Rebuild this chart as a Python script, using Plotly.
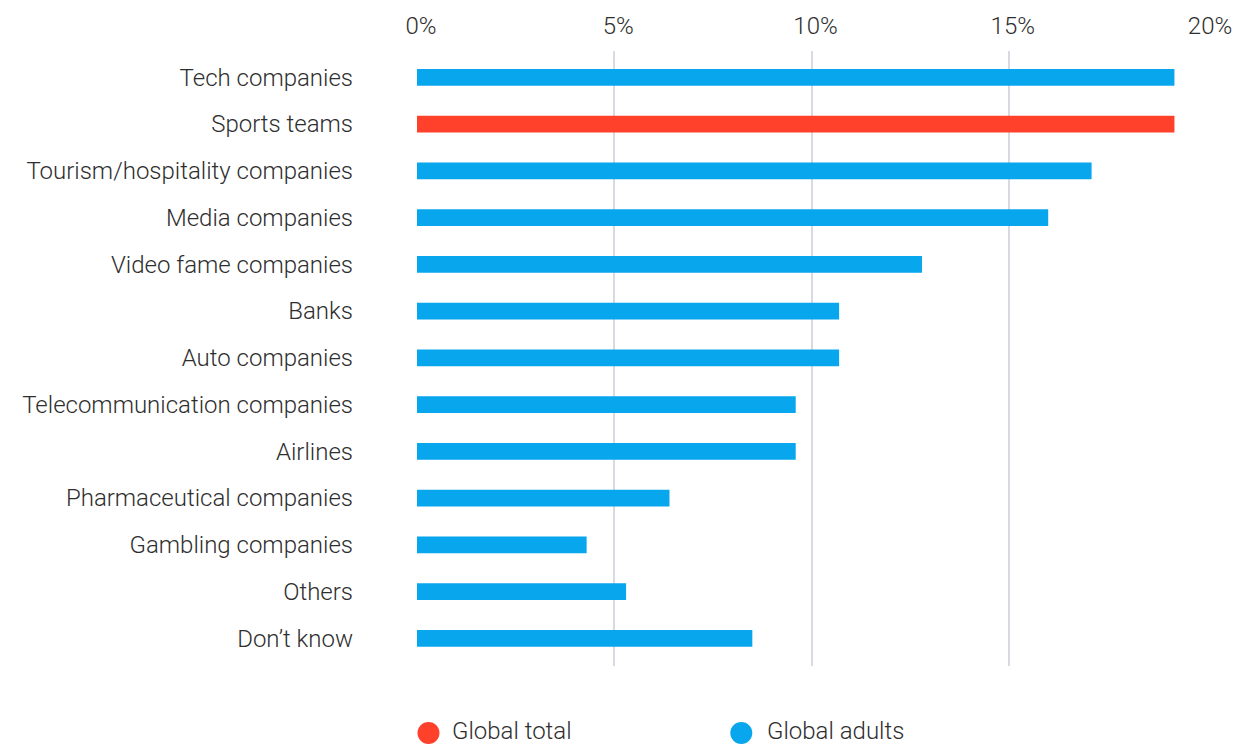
import plotly.graph_objects as go

categories = [
    "Tech companies", "Sports teams", "Tourism/hospitality companies",
    "Media companies", "Video fame companies", "Banks", "Auto companies",
    "Telecommunication companies", "Airlines", "Pharmaceutical companies",
    "Gambling companies", "Others", "Don\u2019t know",
]
values = [19.2, 19.2, 17.1, 16.0, 12.8, 10.7, 10.7, 9.6, 9.6, 6.4, 4.3, 5.3, 8.5]
groups = ["Global adults", "Global total"] + ["Global adults"] * 11
legend_names = ["Global total", "Global adults"]
x_ticks = [0, 5, 10, 15, 20]
x_tick_labels = ["0%", "5%", "10%", "15%", "20%"]

colors = {"Global total": "#FF412C", "Global adults": "#08A6EC"}
FONT = "Roboto"
FS = 24
TXT = "#2e2e2e"

W, H = 1235, 737
L, R, T, B = 408.5, 37, 43, 79
PW, PH = W - L - R, H - T - B

def px_x(px):
    return (px - L) / PW

def px_y(py):
    return (H - B - py) / PH

positions = list(range(len(categories)))

fig = go.Figure()
fig.add_trace(go.Bar(
    x=values, y=positions, orientation="h",
    marker=dict(color=[colors[g] for g in groups], line=dict(width=0)),
    width=0.36, showlegend=False, hoverinfo="x+text",
    text=categories, textposition="none",
))

# legend drawn manually (large circle symbols)
legend_px = [(420, 442), (733, 757)]
for name, (cx, tx) in zip(legend_names, legend_px):
    fig.add_shape(type="circle", xref="paper", yref="paper",
                  x0=px_x(cx - 11), x1=px_x(cx + 11),
                  y0=px_y(725 + 11), y1=px_y(725 - 11),
                  fillcolor=colors[name], line=dict(width=0))
    fig.add_annotation(text=name, xref="paper", yref="paper",
                       x=px_x(tx), y=px_y(723), xanchor="left", yanchor="middle",
                       showarrow=False,
                       font=dict(family=FONT, size=FS, color=TXT, weight=300))

fig.update_layout(
    width=W, height=H,
    paper_bgcolor="white", plot_bgcolor="white",
    margin=dict(l=L, r=R, t=T, b=B, autoexpand=False),
    font=dict(family=FONT, size=FS, color=TXT, weight=300),
    showlegend=False,
)
fig.update_xaxes(
    range=[0, 20], side="top", tickvals=x_ticks, ticktext=x_tick_labels,
    showgrid=True, gridcolor="#D9D9E3", gridwidth=1.5,
    zeroline=False, showline=False, ticks="", ticklabelstandoff=11,
    ticklabelshift=4,
    tickfont=dict(family=FONT, size=FS, color=TXT, weight=300),
    fixedrange=True,
)
fig.update_yaxes(
    tickvals=positions, ticktext=categories, range=[12.592, -0.563],
    showgrid=False, zeroline=False, showline=False, ticks="",
    ticklabelstandoff=63,
    tickfont=dict(family=FONT, size=FS, color=TXT, weight=300),
    fixedrange=True,
)

fig.write_html("out.html")
